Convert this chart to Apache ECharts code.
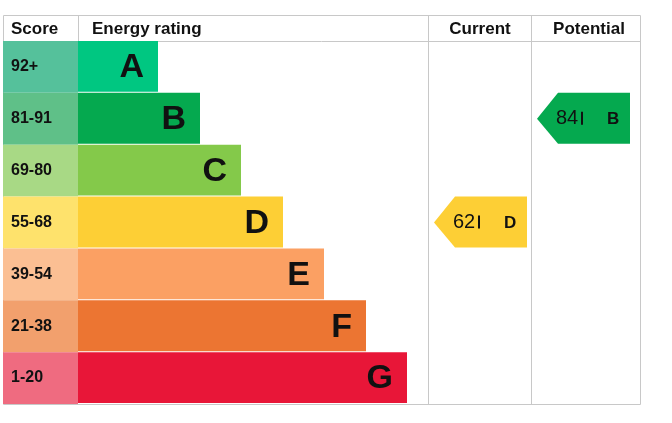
<!DOCTYPE html><html><head><meta charset="utf-8">
<script src="https://cdn.jsdelivr.net/npm/echarts@6/dist/echarts.min.js"></script>
<style>html,body{margin:0;padding:0;background:#fff}#c{width:672px;height:423px}</style></head><body><div id="c"></div>
<script>
const bands=['A','B','C','D','E','F','G'];
const scoreRanges=['92+','81-91','69-80','55-68','39-54','21-38','1-20'];
const barEnds=[155,197,238,280,321,363,404];
const bandColors=['#00c781','#05a94f','#84c94a','#fdcf35','#fba063','#ec7532','#e81638'];
const scoreColors=['#55c19b','#5fc088','#a8d985','#fee26c','#fbbf93','#f2a06d','#ef6b80'];
const current={value:62,band:'D'};
const potential={value:84,band:'B'};
const headers=['Score','Energy rating','Current','Potential'];
const SCORE_END=75, CUR_START=425, POT_START=528, XMAX=637;
const chart=echarts.init(document.getElementById('c'));
const F='"Liberation Sans", Arial, sans-serif';
function rows(){return bands.map((b,i)=>[i,barEnds[i]]);}
chart.setOption({
 animation:false,
 grid:{left:3,right:32,top:41,bottom:19},
 xAxis:{type:'value',min:0,max:XMAX,show:false},
 yAxis:{type:'category',data:bands,inverse:true,show:false},
 graphic:[
  {type:'rect',shape:{x:3.5,y:15.5,width:637,height:389},style:{fill:'none',stroke:'#c8c8c8',lineWidth:1}},
  {type:'line',shape:{x1:3,y1:41.5,x2:640,y2:41.5},style:{stroke:'#c8c8c8'}},
  {type:'line',shape:{x1:78.5,y1:15,x2:78.5,y2:41},style:{stroke:'#c8c8c8'}},
  {type:'line',shape:{x1:428.5,y1:15,x2:428.5,y2:404},style:{stroke:'#c8c8c8'}},
  {type:'line',shape:{x1:531.5,y1:15,x2:531.5,y2:404},style:{stroke:'#c8c8c8'}},
  {type:'text',x:11,y:29,style:{text:headers[0],font:'bold 17px '+F,fill:'#111',verticalAlign:'middle'}},
  {type:'text',x:92,y:29,style:{text:headers[1],font:'bold 17px '+F,fill:'#111',verticalAlign:'middle'}},
  {type:'text',x:480,y:29,style:{text:headers[2],font:'bold 17px '+F,fill:'#111',verticalAlign:'middle',align:'center'}},
  {type:'text',x:589,y:29,style:{text:headers[3],font:'bold 17px '+F,fill:'#111',verticalAlign:'middle',align:'center'}}
 ],
 series:[
  {type:'custom',data:rows(),renderItem:function(p,api){
    const i=api.value(0), end=api.value(1);
    const s=api.coord([0,i]), h=api.size([0,1])[1];
    const x0=s[0], xs=api.coord([SCORE_END,i])[0], xe=api.coord([end,i])[0];
    const y=s[1]-h/2;
    return {type:'group',children:[
      {type:'rect',shape:{x:x0,y:y,width:xs-x0,height:h},style:{fill:scoreColors[i]}},
      {type:'rect',shape:{x:xs,y:y,width:xe-xs,height:h-1},style:{fill:bandColors[i]}},
      {type:'text',x:x0+8,y:s[1],style:{text:scoreRanges[i],font:'bold 16px '+F,fill:'#111',verticalAlign:'middle'}},
      {type:'text',x:xe-14,y:s[1]+1,style:{text:bands[i],font:'bold 34px '+F,fill:'#111',verticalAlign:'middle',align:'right'}}
    ]};
  }},
  {type:'custom',data:[[bands.indexOf(current.band),current.value,CUR_START],[bands.indexOf(potential.band),potential.value,POT_START]],renderItem:function(p,api){
    const i=api.value(0), v=api.value(1), st=api.value(2);
    const c=api.coord([st,i]), h=api.size([0,1])[1];
    const x0=c[0]+6, x1=x0+93, y0=c[1]-h/2, y1=c[1]+h/2-1, t=x0+21;
    const band=bands[i];
    return {type:'group',children:[
      {type:'polygon',shape:{points:[[x0,c[1]],[t,y0],[x1,y0],[x1,y1],[t,y1]]},style:{fill:bandColors[i]}},
      {type:'text',x:x0+19,y:c[1],style:{text:v+' ',font:'20px '+F,fill:'#111',verticalAlign:'middle'}},
      {type:'rect',shape:{x:x0+44,y:c[1]-7,width:2,height:13},style:{fill:'#111'}},
      {type:'text',x:x0+70,y:c[1]+1,style:{text:band,font:'bold 17px '+F,fill:'#111',verticalAlign:'middle'}}
    ]};
  }}
 ]
});
</script></body></html>
